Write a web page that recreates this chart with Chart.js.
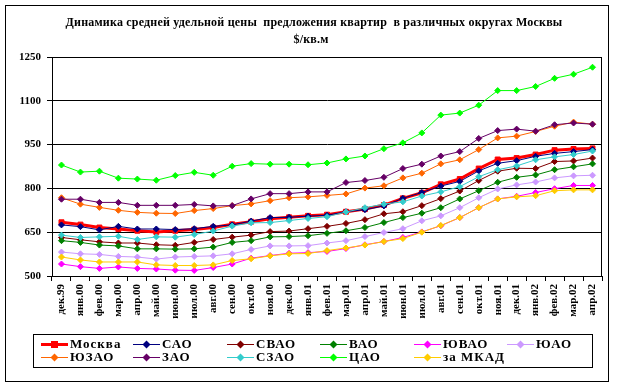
<!DOCTYPE html>
<html lang="ru">
<head>
<meta charset="utf-8">
<title>Динамика средней удельной цены предложения квартир</title>
<script src="https://cdn.jsdelivr.net/npm/chart.js@4.4.1/dist/chart.umd.min.js"></script>
<style>
  html, body { margin: 0; padding: 0; background: #fff; }
  #wrap { position: relative; width: 617px; height: 386px; }
</style>
</head>
<body>
<div id="wrap"><canvas id="chart" width="617" height="386"></canvas></div>
<script>
const meses = ["дек.99", "янв.00", "фев.00", "мар.00", "апр.00", "май.00", "июн.00", "июл.00",
  "авг.00", "сен.00", "окт.00", "ноя.00", "дек.00", "янв.01", "фев.01", "мар.01", "апр.01",
  "май.01", "июн.01", "июл.01", "авг.01", "сен.01", "окт.01", "ноя.01", "дек.01", "янв.02",
  "фев.02", "мар.02", "апр.02"];

const moskva = [684, 676, 666, 661, 655, 651, 655, 659, 666, 677, 686, 696, 701, 706, 710, 720, 729, 743, 766, 785, 814, 832, 868, 899, 904, 916, 931, 935, 937];
const sao    = [675, 669, 658, 670, 661, 661, 659, 662, 670, 675, 688, 700, 701, 705, 708, 720, 727, 740, 766, 786, 808, 824, 860, 886, 895, 910, 920, 926, 933];
const svao   = [632, 624, 617, 613, 613, 607, 605, 615, 625, 633, 640, 652, 654, 662, 670, 680, 693, 713, 720, 741, 765, 791, 827, 859, 869, 868, 892, 894, 904];
const vao    = [621, 615, 606, 603, 593, 593, 592, 593, 599, 615, 621, 634, 635, 638, 646, 655, 666, 683, 700, 715, 734, 764, 792, 821, 838, 846, 864, 874, 884];
const yuvao  = [541, 532, 526, 531, 526, 524, 520, 519, 529, 541, 561, 570, 578, 580, 584, 594, 607, 618, 632, 651, 672, 700, 734, 764, 773, 786, 799, 810, 810];
const yuao   = [582, 576, 574, 567, 565, 558, 565, 567, 569, 576, 591, 603, 603, 604, 613, 621, 635, 649, 662, 689, 706, 734, 768, 798, 812, 822, 836, 843, 845];
const yuzao  = [768, 746, 735, 725, 718, 715, 714, 724, 731, 741, 747, 758, 768, 771, 776, 781, 801, 809, 836, 852, 884, 898, 933, 973, 979, 995, 1013, 1027, 1020];
const zao    = [763, 763, 752, 752, 742, 742, 742, 745, 740, 741, 764, 782, 782, 788, 788, 820, 827, 838, 868, 883, 911, 926, 971, 998, 1003, 996, 1018, 1024, 1020];
const szao   = [640, 632, 634, 636, 625, 634, 633, 642, 654, 671, 682, 683, 690, 697, 703, 719, 734, 746, 754, 774, 788, 806, 840, 864, 877, 898, 908, 916, 928];
const cao    = [880, 856, 859, 835, 832, 828, 844, 855, 845, 876, 885, 883, 883, 881, 887, 901, 911, 936, 956, 990, 1051, 1058, 1085, 1135, 1135, 1149, 1177, 1191, 1215];
const zaMkad = [565, 555, 548, 548, 548, 538, 536, 536, 538, 553, 559, 569, 576, 577, 587, 596, 606, 618, 628, 650, 673, 700, 734, 764, 771, 775, 792, 795, 795];

const yMin = 500;
const yMax = 1250;
const yStep = 150;

const titulo = ["Динамика средней удельной цены  предложения квартир  в различных округах Москвы", "$/кв.м"];

const FONT = '"Liberation Serif", "Times New Roman", serif';

const series = [
  { label: "Москва",  data: moskva, color: "#FF0000" },
  { label: "САО",     data: sao,    color: "#000080" },
  { label: "СВАО",    data: svao,   color: "#800000" },
  { label: "ВАО",     data: vao,    color: "#008000" },
  { label: "ЮВАО",    data: yuvao,  color: "#FF00FF" },
  { label: "ЮАО",     data: yuao,   color: "#CC99FF" },
  { label: "ЮЗАО",    data: yuzao,  color: "#FF6600" },
  { label: "ЗАО",     data: zao,    color: "#660066" },
  { label: "СЗАО",    data: szao,   color: "#33CCCC" },
  { label: "ЦАО",     data: cao,    color: "#00FF00" },
  { label: "за МКАД", data: zaMkad, color: "#FFCC00" }
];

const datasets = series.map((s, i) => ({
  label: s.label,
  data: s.data,
  borderColor: s.color,
  backgroundColor: s.color,
  borderWidth: i === 0 ? 3 : 1,
  pointStyle: i === 0 ? "rect" : "rectRot",
  pointRadius: i === 0 ? 3.5 : 3,
  pointBorderWidth: 1,
  pointBackgroundColor: s.color,
  pointBorderColor: s.color,
  tension: 0,
  order: series.length - i
}));

function marker(ctx, style, x, y, r) {
  ctx.beginPath();
  if (style === "rect") {
    ctx.rect(x - r, y - r, 2 * r, 2 * r);
  } else {
    ctx.moveTo(x, y - r);
    ctx.lineTo(x + r, y);
    ctx.lineTo(x, y + r);
    ctx.lineTo(x - r, y);
    ctx.closePath();
  }
  ctx.fill();
}

// marco, título y leyenda dibujados a mano
const marco = {
  id: "marco",
  beforeDraw(chart) {
    const ctx = chart.ctx;
    ctx.save();
    ctx.fillStyle = "#fff";
    ctx.fillRect(0, 0, chart.width, chart.height);
    ctx.strokeStyle = "#000";
    ctx.lineWidth = 1;
    ctx.strokeRect(5.5, 5.5, 603, 376);
    ctx.restore();
  },
  afterDraw(chart) {
    const ctx = chart.ctx;
    const a = chart.chartArea;
    ctx.save();
    ctx.strokeStyle = "#000";
    ctx.lineWidth = 1;
    ctx.strokeRect(Math.round(a.left) + 0.5, Math.round(a.top) + 0.5,
      Math.round(a.right - a.left) - 1, Math.round(a.bottom - a.top));

    ctx.fillStyle = "#000";
    ctx.font = `bold 12px ${FONT}`;
    ctx.textAlign = "center";
    ctx.textBaseline = "alphabetic";
    ctx.letterSpacing = "0.2px";
    ctx.fillText(titulo[0], 314, 26);
    ctx.fillText(titulo[1], 311, 43);

    // leyenda
    ctx.strokeRect(33.5, 334.5, 559, 33);
    const cols = [41, 133, 227, 320, 414, 507];
    const rows = [344, 357];
    ctx.font = `bold 13px ${FONT}`;
    ctx.textAlign = "left";
    ctx.textBaseline = "middle";
    ctx.letterSpacing = "1px";
    chart.data.datasets.forEach((d, i) => {
      const x = cols[i % 6];
      const y = rows[Math.floor(i / 6)];
      ctx.strokeStyle = d.borderColor;
      ctx.lineWidth = d.borderWidth;
      ctx.beginPath();
      ctx.moveTo(x, y + 0.5);
      ctx.lineTo(x + 27, y + 0.5);
      ctx.stroke();
      ctx.fillStyle = d.borderColor;
      marker(ctx, d.pointStyle, x + 13.5, y + 0.5, d.pointStyle === "rect" ? 3.5 : 4);
      ctx.fillStyle = "#000";
      ctx.fillText(d.label, x + 29, y + 1);
    });
    ctx.restore();
  }
};

new Chart(document.getElementById("chart"), {
  type: "line",
  data: { labels: meses, datasets },
  options: {
    responsive: false,
    animation: false,
    events: [],
    layout: { padding: { top: 57, left: 12, right: 15, bottom: 60 } },
    plugins: {
      legend: { display: false },
      title: { display: false },
      tooltip: { enabled: false }
    },
    scales: {
      x: {
        type: "category",
        offset: true,
        afterFit: (scale) => { scale.height = 50; },
        grid: { offset: true, drawOnChartArea: false, color: "#000", tickLength: 5 },
        border: { color: "#000", width: 1 },
        ticks: {
          autoSkip: false,
          minRotation: 90,
          maxRotation: 90,
          padding: 3,
          color: "#000",
          font: { family: FONT, size: 11, weight: "bold" }
        }
      },
      y: {
        min: yMin,
        max: yMax,
        afterFit: (scale) => { scale.width = 40; },
        grid: { color: "#000", lineWidth: 1, tickLength: 5 },
        border: { color: "#000", width: 1 },
        ticks: {
          stepSize: yStep,
          padding: 6,
          color: "#000",
          callback: (v) => String(v),
          font: { family: FONT, size: 11, weight: "bold" }
        }
      }
    }
  },
  plugins: [marco]
});
</script>
</body>
</html>
